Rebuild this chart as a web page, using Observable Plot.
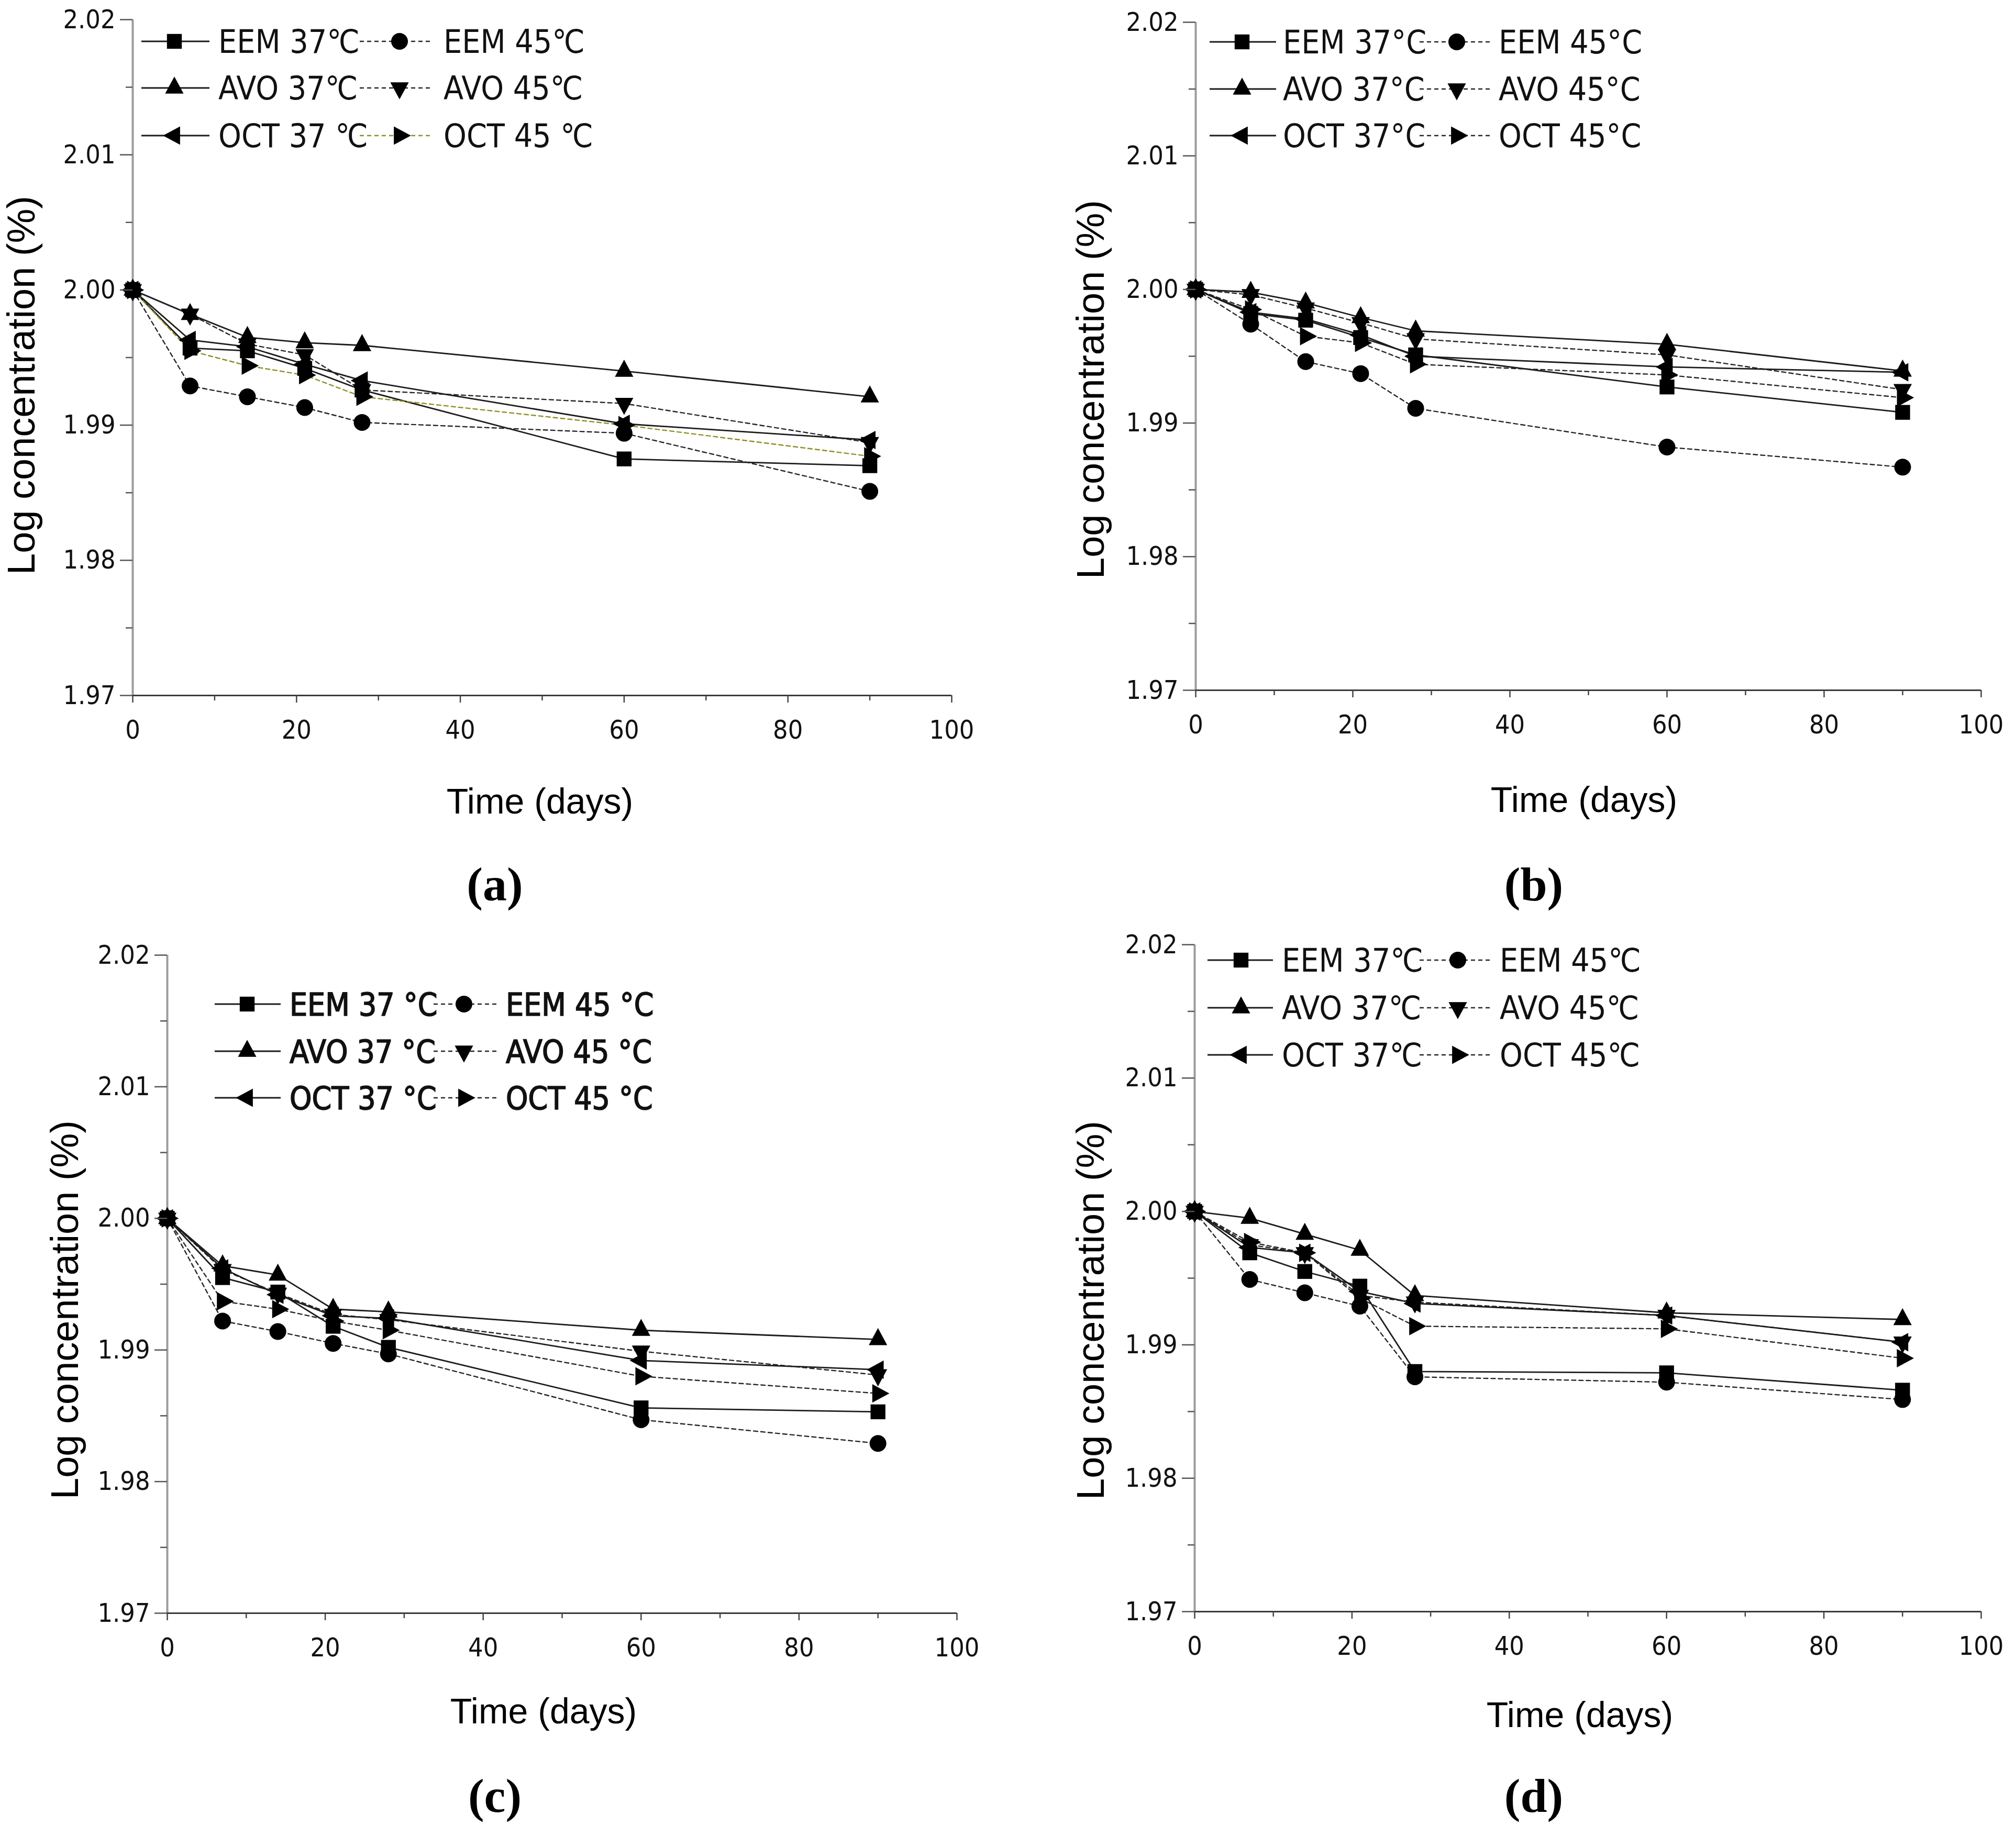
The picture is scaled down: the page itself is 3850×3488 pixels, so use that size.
<!DOCTYPE html>
<html><head><meta charset="utf-8">
<script src="https://cdn.jsdelivr.net/npm/d3@7"></script>
<script src="https://cdn.jsdelivr.net/npm/@observablehq/plot@0.6"></script>
<style>
body{margin:0;background:#fff;}
#fig{position:relative;width:3850px;height:3488px;background:#fff;overflow:hidden;}
.panel{position:absolute;}
.xt{position:absolute;font-family:"Liberation Sans",Arial,sans-serif;font-size:68px;transform:translate(-50%,-50%);white-space:nowrap;color:#000;}
.yt{position:absolute;font-family:"Liberation Sans",Arial,sans-serif;font-size:74px;transform:translate(-50%,-50%) rotate(-90deg);white-space:nowrap;color:#000;}
.cap{position:absolute;font-family:"Liberation Serif","Times New Roman",serif;font-weight:bold;font-size:92px;transform:translate(-50%,-50%);white-space:nowrap;}
#legend{position:absolute;left:0;top:0;pointer-events:none;}
</style></head><body><div id="fig"></div>
<script>
// ---- data ----
const days = [0, 7, 14, 21, 28, 60, 90];

// panel (a)
const a_EEM37 = [2.000, 1.9957, 1.9955, 1.9942, 1.9926, 1.9875, 1.9870];
const a_EEM45 = [2.000, 1.9929, 1.9921, 1.9913, 1.9902, 1.9894, 1.9851];
const a_AVO37 = [2.000, 1.9982, 1.9965, 1.9961, 1.9959, 1.9940, 1.9921];
const a_AVO45 = [2.000, 1.9982, 1.9960, 1.9952, 1.9926, 1.9916, 1.9887];
const a_OCT37 = [2.000, 1.9963, 1.9958, 1.9945, 1.9933, 1.9901, 1.9889];
const a_OCT45 = [2.000, 1.9955, 1.9944, 1.9937, 1.9921, 1.9900, 1.9877];
// panel (b)
const b_EEM37 = [2.000, 1.9982, 1.9977, 1.9964, 1.9951, 1.9927, 1.9908];
const b_EEM45 = [2.000, 1.9974, 1.9946, 1.9937, 1.9911, 1.9882, 1.9867];
const b_AVO37 = [2.000, 1.9998, 1.9990, 1.9979, 1.9969, 1.9959, 1.9939];
const b_AVO45 = [2.000, 1.9996, 1.9986, 1.9975, 1.9963, 1.9951, 1.9925];
const b_OCT37 = [2.000, 1.9983, 1.9978, 1.9966, 1.9950, 1.9942, 1.9938];
const b_OCT45 = [2.000, 1.9985, 1.9965, 1.9960, 1.9944, 1.9936, 1.9919];
// panel (c)
const c_EEM37 = [2.000, 1.9955, 1.9944, 1.9918, 1.9902, 1.9856, 1.9853];
const c_EEM45 = [2.000, 1.9922, 1.9914, 1.9905, 1.9897, 1.9847, 1.9829];
const c_AVO37 = [2.000, 1.9964, 1.9957, 1.9931, 1.9929, 1.9915, 1.9908];
const c_AVO45 = [2.000, 1.9961, 1.9943, 1.9927, 1.9923, 1.9899, 1.9881];
const c_OCT37 = [2.000, 1.9962, 1.9942, 1.9926, 1.9924, 1.9892, 1.9885];
const c_OCT45 = [2.000, 1.9937, 1.9931, 1.9922, 1.9915, 1.9880, 1.9867];
// panel (d)
const d_EEM37 = [2.000, 1.9969, 1.9955, 1.9944, 1.9880, 1.9879, 1.9866];
const d_EEM45 = [2.000, 1.9949, 1.9939, 1.9929, 1.9876, 1.9872, 1.9859];
const d_AVO37 = [2.000, 1.9995, 1.9983, 1.9971, 1.9937, 1.9924, 1.9919];
const d_AVO45 = [2.000, 1.9975, 1.9969, 1.9937, 1.9932, 1.9922, 1.9902];
const d_OCT37 = [2.000, 1.9973, 1.9969, 1.9940, 1.9931, 1.9922, 1.9902];
const d_OCT45 = [2.000, 1.9977, 1.9969, 1.9935, 1.9914, 1.9912, 1.9890];

// tick values
const yMajor = [1.97, 1.98, 1.99, 2.00, 2.01, 2.02];
const yMinor = [1.975, 1.985, 1.995, 2.005, 2.015];
const xMajor = [0, 20, 40, 60, 80, 100];
const xMinor = [10, 30, 50, 70, 90];

// legend labels
const a_labels = ["EEM 37℃", "EEM 45℃", "AVO 37℃", "AVO 45℃", "OCT 37 ℃", "OCT 45 ℃"];
const b_labels = ["EEM 37°C", "EEM 45°C", "AVO 37°C", "AVO 45°C", "OCT 37°C", "OCT 45°C"];
const c_labels = ["EEM 37 °C", "EEM 45 °C", "AVO 37 °C", "AVO 45 °C", "OCT 37 °C", "OCT 45 °C"];
const d_labels = ["EEM 37℃", "EEM 45℃", "AVO 37℃", "AVO 45℃", "OCT 37℃", "OCT 45℃"];
const panelLetters = ["(a)", "(b)", "(c)", "(d)"];
const xTitle = "Time (days)";
const yTitle = "Log concentration (%)";

// ---- symbols ----
function tri(dir) {
  return {draw(ctx, size) {
    const s = Math.sqrt(size), w = 0.62 * s, h = 1.15 * s;
    if (dir === "up") { ctx.moveTo(0, -h * 2/3); ctx.lineTo(w, h/3); ctx.lineTo(-w, h/3); }
    else if (dir === "down") { ctx.moveTo(0, h * 2/3); ctx.lineTo(w, -h/3); ctx.lineTo(-w, -h/3); }
    else if (dir === "left") { ctx.moveTo(-h * 2/3, 0); ctx.lineTo(h/3, -w); ctx.lineTo(h/3, w); }
    else { ctx.moveTo(h * 2/3, 0); ctx.lineTo(-h/3, -w); ctx.lineTo(-h/3, w); }
    ctx.closePath();
  }};
}
const SYMS = [d3.symbolSquare, d3.symbolCircle, tri("up"), tri("down"), tri("left"), tri("right")];
const SOLID = "#1c1c1c", DASH = "#262626", OLIVE = "#8f8f26";
const R = 16;

const panels = [
  {series: [a_EEM37, a_EEM45, a_AVO37, a_AVO45, a_OCT37, a_OCT45], labels: a_labels, olive: true,
   left: 0, top: 0, ml: 253, mr: 83, mt: 37, mb: 122,
   xt: [1031, 1530], yt: [40, 736], cap: [945, 1689],
   leg: {rows: [79, 168, 259], c1: [270, 400, 333, 417], c2: [687, 825, 763, 847], fs: 62, sw: 0}},
  {series: [b_EEM37, b_EEM45, b_AVO37, b_AVO45, b_OCT37, b_OCT45], labels: b_labels, olive: false,
   left: 1950, top: 0, ml: 333, mr: 67, mt: 42, mb: 132,
   xt: [3025, 1527], yt: [2082, 744], cap: [2929, 1689],
   leg: {rows: [80, 170, 259], c1: [2310, 2437, 2372, 2450], c2: [2711, 2845, 2782, 2862], fs: 62, sw: 0}},
  {series: [c_EEM37, c_EEM45, c_AVO37, c_AVO45, c_OCT37, c_OCT45], labels: c_labels, olive: false,
   left: 0, top: 1750, ml: 319, mr: 73, mt: 74, mb: 119,
   xt: [1038, 3268], yt: [123, 2502], cap: [945, 3430],
   leg: {rows: [1918, 2008, 2097], c1: [410, 536, 472, 553], c2: [828, 950, 886, 966], fs: 60, sw: 1.6}},
  {series: [d_EEM37, d_EEM45, d_AVO37, d_AVO45, d_OCT37, d_OCT45], labels: d_labels, olive: false,
   left: 1950, top: 1750, ml: 331, mr: 67, mt: 54, mb: 122,
   xt: [3017, 3275], yt: [2082, 2503], cap: [2929, 3430],
   leg: {rows: [1834, 1925, 2015], c1: [2306, 2431, 2370, 2448], c2: [2711, 2845, 2784, 2864], fs: 62, sw: 0}}
];

const fig = document.getElementById("fig");
const W = 1900, H = 1450;
const tickFont = "'Liberation Sans Narrow','DejaVu Sans Condensed','Liberation Sans',sans-serif";

function lineStyle(p, i) {
  const dashed = i % 2 === 1;
  const stroke = (p.olive && i === 5) ? OLIVE : (dashed ? DASH : SOLID);
  return {stroke, strokeWidth: dashed ? 2.4 : 2.8, strokeDasharray: dashed ? "8,6" : null};
}

panels.forEach((p, pi) => {
  const marks = [
    Plot.ruleX([0], {stroke: "#9c9c9c", strokeWidth: 4}),
    Plot.ruleY([1.97], {stroke: "#3a3a3a", strokeWidth: 3})
  ];
  p.series.forEach((vals, i) => {
    const rows = days.map((d, k) => ({day: d, v: vals[k]}));
    const ls = lineStyle(p, i);
    marks.push(Plot.line(rows, {x: "day", y: "v", stroke: ls.stroke, strokeWidth: ls.strokeWidth, strokeDasharray: ls.strokeDasharray}));
  });
  p.series.forEach((vals, i) => {
    const rows = days.map((d, k) => ({day: d, v: vals[k]}));
    marks.push(Plot.dot(rows, {x: "day", y: "v", symbol: SYMS[i], r: R, fill: "#000", stroke: "none"}));
  });
  marks.push(
    Plot.axisY(yMajor, {tickSize: 24, tickPadding: 9, tickFormat: d => d.toFixed(2), stroke: "#555", strokeWidth: 2.5, label: null, fill: "#111"}),
    Plot.axisY(yMinor, {tickSize: 13, tickPadding: 9, tickFormat: () => "", stroke: "#555", strokeWidth: 2.5, label: null}),
    Plot.axisX(xMajor, {tickSize: 14, tickPadding: 33, tickFormat: d => String(d), stroke: "#444", strokeWidth: 2.5, label: null, fill: "#111"}),
    Plot.axisX(xMinor, {tickSize: 10, tickPadding: 33, tickFormat: () => "", stroke: "#444", strokeWidth: 2.5, label: null})
  );
  const svg = Plot.plot({
    width: W, height: H,
    marginLeft: p.ml, marginRight: p.mr, marginTop: p.mt, marginBottom: p.mb,
    x: {domain: [0, 100], label: null},
    y: {domain: [1.97, 2.02], label: null},
    style: {fontFamily: tickFont, fontSize: "50px", background: "transparent", overflow: "visible"},
    marks
  });
  const div = document.createElement("div");
  div.className = "panel";
  div.style.left = p.left + "px";
  div.style.top = p.top + "px";
  div.appendChild(svg);
  fig.appendChild(div);

  const xt = document.createElement("div");
  xt.className = "xt"; xt.textContent = xTitle;
  xt.style.left = p.xt[0] + "px"; xt.style.top = p.xt[1] + "px";
  fig.appendChild(xt);
  const yt = document.createElement("div");
  yt.className = "yt"; yt.textContent = yTitle;
  yt.style.left = p.yt[0] + "px"; yt.style.top = p.yt[1] + "px";
  fig.appendChild(yt);
  const cap = document.createElement("div");
  cap.className = "cap"; cap.textContent = panelLetters[pi];
  cap.style.left = p.cap[0] + "px"; cap.style.top = p.cap[1] + "px";
  fig.appendChild(cap);
});

// ---- legends (overlay) ----
const leg = d3.select(fig).append("svg").attr("id", "legend")
  .attr("width", 3850).attr("height", 3488);
panels.forEach(p => {
  const L = p.leg;
  for (let r = 0; r < 3; r++) {
    for (let c = 0; c < 2; c++) {
      const i = r * 2 + c;
      const col = c === 0 ? L.c1 : L.c2;
      const y = L.rows[r];
      const ls = lineStyle(p, i);
      leg.append("line").attr("x1", col[0]).attr("x2", col[1]).attr("y1", y).attr("y2", y)
        .attr("stroke", ls.stroke).attr("stroke-width", ls.strokeWidth)
        .attr("stroke-dasharray", ls.strokeDasharray);
      leg.append("path").attr("transform", `translate(${col[2]},${y})`)
        .attr("d", d3.symbol(SYMS[i], R * R * Math.PI)()).attr("fill", "#000");
      const t = leg.append("text").attr("x", col[3]).attr("y", y).attr("dy", "0.36em")
        .attr("font-family", tickFont).attr("font-size", L.fs)
        .attr("fill", "#111").text(p.labels[i]);
      if (L.sw) t.attr("stroke", "#111").attr("stroke-width", L.sw);
    }
  }
});
</script></body></html>
